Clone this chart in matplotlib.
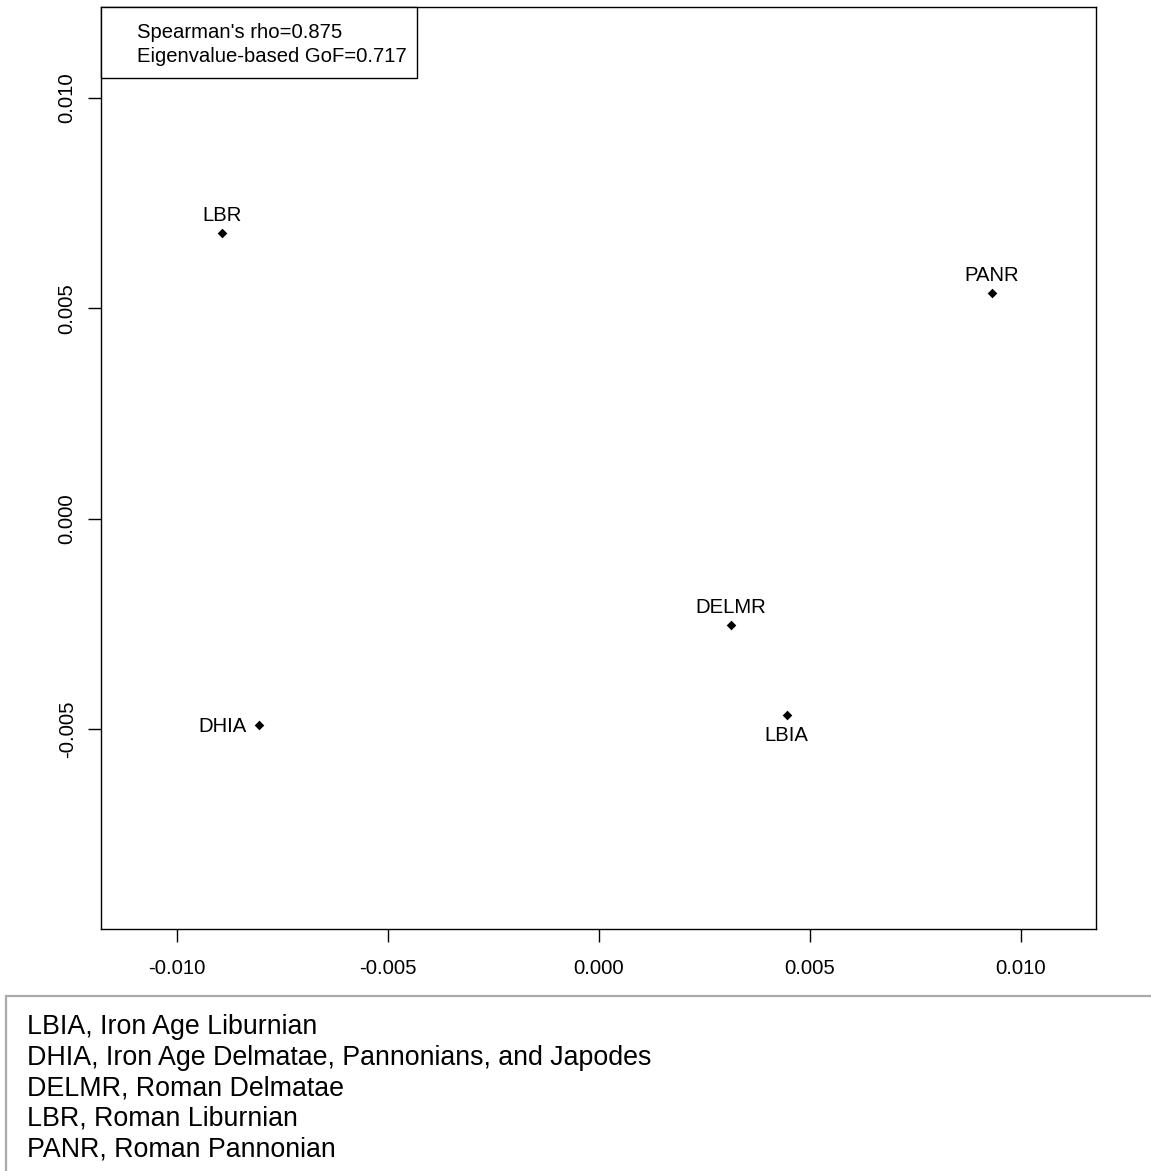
import matplotlib
matplotlib.use("Agg")
import matplotlib.pyplot as plt
from matplotlib.patches import Rectangle

plt.rcParams['font.family'] = ['Liberation Sans', 'DejaVu Sans']

# MDS coordinates of the populations
labels = ["LBR", "PANR", "DELMR", "LBIA", "DHIA"]
xs = [-0.00893, 0.00931, 0.00313, 0.00445, -0.00806]
ys = [0.00679, 0.00537, -0.00252, -0.00466, -0.00489]
# label placement relative to the point: above / below / left
label_pos = ["above", "above", "above", "below", "left"]

x_ticks = [-0.010, -0.005, 0.000, 0.005, 0.010]
y_ticks = [-0.005, 0.000, 0.005, 0.010]

stats_lines = ["Spearman's rho=0.875", "Eigenvalue-based GoF=0.717"]

key_lines = [
    "LBIA, Iron Age Liburnian",
    "DHIA, Iron Age Delmatae, Pannonians, and Japodes",
    "DELMR, Roman Delmatae",
    "LBR, Roman Liburnian",
    "PANR, Roman Pannonian",
]

W, H = 1151, 1171
FS = 14.6
fig = plt.figure(figsize=(W / 100, H / 100), dpi=100)

ax_left, ax_right, ax_top, ax_bottom = 101, 1096, 7, 929
ax = fig.add_axes([ax_left / W, 1 - ax_bottom / H,
                   (ax_right - ax_left) / W, (ax_bottom - ax_top) / H])

ax.scatter(xs, ys, marker='D', s=24, color='black', zorder=3, linewidths=0)

for lab, x, y, pos in zip(labels, xs, ys, label_pos):
    if pos == "above":
        ax.annotate(lab, (x, y), xytext=(0, 12.5), textcoords='offset points',
                    ha='center', va='center', fontsize=FS)
    elif pos == "below":
        ax.annotate(lab, (x, y), xytext=(0, -15), textcoords='offset points',
                    ha='center', va='center', fontsize=FS)
    else:
        ax.annotate(lab, (x, y), xytext=(-8.5, -1.5), textcoords='offset points',
                    ha='right', va='center', fontsize=FS)

ax.set_xlim(-0.01180, 0.01178)
ax.set_ylim(-0.00974, 0.01216)
ax.set_xticks(x_ticks)
ax.set_xticklabels([f"{v:.3f}" for v in x_ticks])
ax.set_yticks(y_ticks)
ax.set_yticklabels([f"{v:.3f}" for v in y_ticks], rotation=90, va='center')

for sp in ax.spines.values():
    sp.set_linewidth(1.0)
    sp.set_color('black')
ax.tick_params(axis='both', direction='out', length=9.5, width=1.0,
               labelsize=FS, colors='black')
ax.tick_params(axis='x', pad=12)
ax.tick_params(axis='y', pad=8)

# statistics box in the top-left corner
box_w = (417 - ax_left) / (ax_right - ax_left)
box_h = (78 - ax_top) / (ax_bottom - ax_top)
ax.add_patch(Rectangle((0, 1 - box_h), box_w, box_h, transform=ax.transAxes,
                       facecolor='white', edgecolor='black', linewidth=1.0,
                       zorder=4, clip_on=False))
for i, line in enumerate(stats_lines):
    yy = 1 - (32 + 24 * i - ax_top) / (ax_bottom - ax_top)
    ax.text((137 - ax_left) / (ax_right - ax_left), yy, line,
            transform=ax.transAxes, ha='left', va='center', fontsize=FS,
            zorder=5)

# key panel below the plot
fig.patches.append(Rectangle((6 / W, -0.05), 1.2, 1.05 - 996 / H,
                             transform=fig.transFigure, facecolor='none',
                             edgecolor='#aaaaaa', linewidth=1.6))
for i, line in enumerate(key_lines):
    yy = 1 - (1027 + 30.6 * i) / H
    fig.text(27 / W, yy, line, ha='left', va='center', fontsize=19.3)

fig.savefig("out.png", dpi=100)
